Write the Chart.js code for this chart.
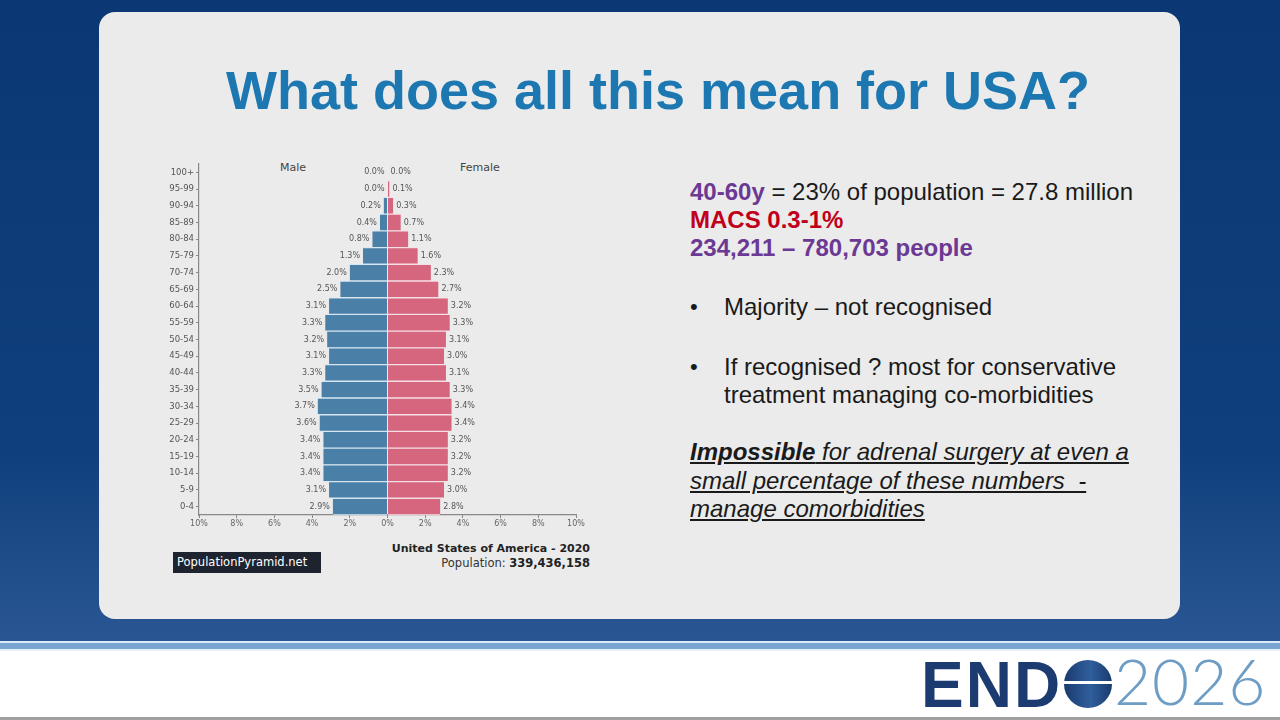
<!DOCTYPE html>
<html lang="en">
<head>
  <meta charset="UTF-8">
  <title>What does all this mean for USA?</title>
  <script src="https://cdn.jsdelivr.net/npm/chart.js"></script>
  <style>
    * { box-sizing: border-box; }

    body {
      margin: 0;
      width: 1280px;
      height: 720px;
      overflow: hidden;
      position: relative;
      font-family: 'Liberation Sans', Arial, sans-serif;
      background: #ffffff;
    }

    .backdrop {
      position: absolute;
      left: 0; top: 0;
      width: 1280px; height: 641px;
      background: linear-gradient(180deg, #0b3874 0%, #0f3f7d 70%, #2a5793 100%);
    }

    .stripe {
      position: absolute;
      left: 0; top: 641px;
      width: 1280px; height: 10px;
      border-top: 2px solid #d9ecf7;
      background: #7aa4d1;
      border-bottom: 2px solid #e6f1fa;
    }

    .bottom-line {
      position: absolute;
      left: 0; top: 717px;
      width: 1280px; height: 3px;
      background: #a0a0a0;
    }

    .card {
      position: absolute;
      left: 99px; top: 12px;
      width: 1081px; height: 607px;
      background: #ebebeb;
      border-radius: 16px;
    }

    h1 {
      position: absolute;
      left: 226px; top: 59px;
      margin: 0;
      font-size: 54px;
      font-weight: bold;
      color: #1d78b2;
      white-space: nowrap;
    }

    .chart-box {
      position: absolute;
      left: 165px; top: 155px;
      width: 430px; height: 380px;
    }

    .sex {
      position: absolute;
      top: 161px;
      font-family: 'DejaVu Sans', sans-serif;
      font-size: 11px;
      color: #444;
      transform: translateX(-50%);
    }

    .source-tag {
      position: absolute;
      left: 173px; top: 552px;
      width: 148px; height: 21px;
      background: #1d2430;
      color: #ffffff;
      font-family: 'DejaVu Sans', sans-serif;
      font-size: 11.5px;
      line-height: 21px;
      padding-left: 4px;
    }

    .caption {
      position: absolute;
      right: 690px; top: 541px;
      text-align: right;
      font-family: 'DejaVu Sans', sans-serif;
      color: #222;
      line-height: 15px;
    }
    .caption .country { font-size: 11px; font-weight: bold; }
    .caption .pop { font-size: 11.5px; color: #333; }
    .caption .pop b { color: #222; }

    .notes {
      position: absolute;
      left: 690px; top: 178px;
      font-size: 24px;
      color: #1a1a1a;
      line-height: 28px;
      white-space: nowrap;
    }
    .purple { color: #6b3893; font-weight: bold; }
    .red { color: #c0001a; font-weight: bold; }

    .bullet {
      position: absolute;
      left: 690px;
      font-size: 24px;
      line-height: 28px;
      color: #1a1a1a;
    }
    .bullet span.dot {
      position: absolute;
      left: 0;
      font-size: 22px;
    }
    .bullet span.txt {
      display: block;
      margin-left: 34px;
      white-space: nowrap;
    }

    .verdict {
      position: absolute;
      left: 690px; top: 438px;
      font-size: 24px;
      line-height: 28.5px;
      font-style: italic;
      text-decoration: underline;
      color: #1a1a1a;
      white-space: nowrap;
    }

    .logo-end {
      position: absolute;
      left: 921px; top: 653px;
      font-family: 'Liberation Sans', Arial, sans-serif;
      font-weight: bold;
      font-size: 64px;
      line-height: 64px;
      color: #1c3b70;
      letter-spacing: 2px;
    }
    .logo-globe {
      position: absolute;
      left: 1064px; top: 660px;
      width: 48px; height: 48px;
      border-radius: 50%;
      background: linear-gradient(90deg, #1b3a6e 0%, #2f5f9c 55%, #1b3a6e 100%);
      color: transparent;
      font-size: 10px;
      text-align: center;
      line-height: 48px;
    }
    .logo-globe::after {
      content: '';
      position: absolute;
      left: 0; top: 21px;
      width: 48px; height: 3px;
      background: #ffffff;
    }
    .logo-year {
      position: absolute;
      left: 1114px; top: 649px;
      font-family: 'Lato', 'Open Sans', sans-serif;
      font-weight: 300;
      font-size: 64px;
      line-height: 64px;
      color: #6d9dc5;
      letter-spacing: 1px;
    }
  </style>
</head>
<body>
  <div class="backdrop"></div>
  <div class="stripe"></div>
  <div class="bottom-line"></div>
  <div class="card"></div>

  <h1>What does all this mean for USA?</h1>

  <div class="sex" style="left: 293px;">Male</div>
  <div class="sex" style="left: 480px;">Female</div>

  <div class="chart-box">
    <canvas id="pyramid" width="430" height="380"></canvas>
  </div>

  <div class="source-tag">PopulationPyramid.net</div>
  <div class="caption">
    <div class="country">United States of America - 2020</div>
    <div class="pop">Population: <b>339,436,158</b></div>
  </div>

  <div class="notes">
    <div><span class="purple">40-60y</span> = 23% of population = 27.8 million</div>
    <div class="red">MACS 0.3-1%</div>
    <div class="purple">234,211 – 780,703 people</div>
  </div>

  <div class="bullet" style="top: 293px;">
    <span class="dot">•</span>
    <span class="txt">Majority – not recognised</span>
  </div>
  <div class="bullet" style="top: 353px;">
    <span class="dot">•</span>
    <span class="txt">If recognised ? most for conservative<br>treatment managing co-morbidities</span>
  </div>

  <div class="verdict">
    <b>Impossible</b> for adrenal surgery at even a<br>
    small percentage of these numbers&nbsp; -<br>
    manage comorbidities
  </div>

  <div class="logo-end">END</div>
  <div class="logo-globe">O</div>
  <div class="logo-year">2026</div>

  <script>
    // age groups, top of the pyramid first
    const ageGroups = ['100+', '95-99', '90-94', '85-89', '80-84', '75-79', '70-74',
      '65-69', '60-64', '55-59', '50-54', '45-49', '40-44', '35-39', '30-34',
      '25-29', '20-24', '15-19', '10-14', '5-9', '0-4'];

    // share of total population, percent
    const malePct = [0.0, 0.0, 0.2, 0.4, 0.8, 1.3, 2.0, 2.5, 3.1, 3.3, 3.2,
      3.1, 3.3, 3.5, 3.7, 3.6, 3.4, 3.4, 3.4, 3.1, 2.9];
    const femalePct = [0.0, 0.1, 0.3, 0.7, 1.1, 1.6, 2.3, 2.7, 3.2, 3.3, 3.1,
      3.0, 3.1, 3.3, 3.4, 3.4, 3.2, 3.2, 3.2, 3.0, 2.8];

    const xTicks = [-10, -8, -6, -4, -2, 0, 2, 4, 6, 8, 10];

    Chart.defaults.font.family = "'DejaVu Sans', sans-serif";

    // writes the percent next to the end of every bar
    const barLabels = {
      id: 'barLabels',
      afterDatasetsDraw(chart) {
        const ctx = chart.ctx;
        ctx.save();
        ctx.font = "8px 'DejaVu Sans', sans-serif";
        ctx.fillStyle = '#555555';
        ctx.textBaseline = 'middle';
        chart.data.datasets.forEach((ds, di) => {
          const meta = chart.getDatasetMeta(di);
          const source = di === 0 ? malePct : femalePct;
          meta.data.forEach((bar, i) => {
            const txt = source[i].toFixed(1) + '%';
            if (di === 0) {
              ctx.textAlign = 'right';
              ctx.fillText(txt, bar.x - 3, bar.y);
            } else {
              ctx.textAlign = 'left';
              ctx.fillText(txt, bar.x + 3, bar.y);
            }
          });
        });
        ctx.restore();
      }
    };

    new Chart(document.getElementById('pyramid'), {
      type: 'bar',
      data: {
        labels: ageGroups,
        datasets: [
          {
            label: 'Male',
            data: malePct.map(v => -v),
            backgroundColor: '#4a7fa8',
            borderColor: '#d7e6f1',
            borderWidth: { top: 1, bottom: 1, left: 0, right: 0 },
            borderSkipped: false,
            barPercentage: 1,
            categoryPercentage: 1
          },
          {
            label: 'Female',
            data: femalePct,
            backgroundColor: '#d5667e',
            borderColor: '#f4dfe4',
            borderWidth: { top: 1, bottom: 1, left: 0, right: 0 },
            borderSkipped: false,
            barPercentage: 1,
            categoryPercentage: 1
          }
        ]
      },
      options: {
        indexAxis: 'y',
        responsive: false,
        animation: false,
        layout: { padding: { top: 9, right: 19, bottom: 0, left: 0 } },
        plugins: {
          legend: { display: false },
          tooltip: { enabled: false }
        },
        scales: {
          x: {
            stacked: true,
            min: -10,
            max: 10,
            afterFit(scale) { scale.height = 20; },
            afterBuildTicks(scale) { scale.ticks = xTicks.map(v => ({ value: v })); },
            border: { color: '#888888', width: 1.2 },
            grid: { drawOnChartArea: false, tickLength: 3, color: '#888888' },
            ticks: {
              font: { size: 8 },
              color: '#666666',
              padding: 1,
              maxRotation: 0,
              callback: v => Math.abs(v) + '%'
            }
          },
          y: {
            stacked: true,
            afterFit(scale) { scale.width = 34; },
            border: { color: '#888888', width: 1.2 },
            grid: { drawOnChartArea: false, offset: false, tickLength: 3, color: '#888888' },
            ticks: {
              font: { size: 8.5 },
              color: '#555555',
              padding: 2
            }
          }
        }
      },
      plugins: [barLabels]
    });
  </script>
</body>
</html>
